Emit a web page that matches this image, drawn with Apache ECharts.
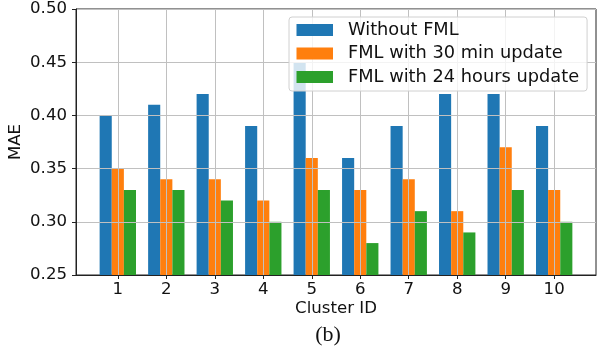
<!DOCTYPE html>
<html>
<head>
<meta charset="utf-8">
<script src="https://cdn.jsdelivr.net/npm/echarts@6/dist/echarts.min.js"></script>
<style>html,body{margin:0;padding:0;background:#fff}#c{width:598px;height:349px}</style>
</head>
<body>
<div id="c"></div>
<script>
const clusters = [1, 2, 3, 4, 5, 6, 7, 8, 9, 10];
const withoutFML = [0.40, 0.41, 0.42, 0.39, 0.45, 0.36, 0.39, 0.42, 0.42, 0.39];
const fml30min = [0.35, 0.34, 0.34, 0.32, 0.36, 0.33, 0.34, 0.31, 0.37, 0.33];
const fml24h = [0.33, 0.33, 0.32, 0.30, 0.33, 0.28, 0.31, 0.29, 0.33, 0.30];
const seriesNames = ['Without FML', 'FML with 30 min update', 'FML with 24 hours update'];
const yTicks = [0.25, 0.30, 0.35, 0.40, 0.45, 0.50];

const FONT = 'DejaVu Sans';
const colors = ['#1f77b4', '#ff7f0e', '#2ca02c'];
const barW = 0.25;
const xMin = clusters[0] - 1.5 * barW - 0.4875;
const xMax = clusters[clusters.length - 1] + 1.5 * barW + 0.4875;

const chart = echarts.init(document.getElementById('c'), null, {renderer: 'canvas'});
const gridLeft = 76, gridTop = 9, gridW = 520, gridH = 266;
const pxPerUnit = gridW / (xMax - xMin);

function mk(name, vals, i) {
  return {
    name: name, type: 'bar',
    data: clusters.map((c, k) => [c, vals[k]]),
    barWidth: barW * pxPerUnit,
    barGap: '0%',
    itemStyle: {color: colors[i]},
    z: 2
  };
}

chart.setOption({
  animation: false,
  backgroundColor: '#fff',
  textStyle: {fontFamily: FONT},
  grid: {left: gridLeft, top: gridTop, width: gridW, height: gridH, show: true, borderColor: '#222', borderWidth: 1,
    containLabel: false, outerBoundsMode: 'none'},
  legend: {
    orient: 'vertical', left: 289, top: 17,
    padding: [3, 8, 4, 7.5], itemGap: 3.5,
    itemWidth: 36.5, itemHeight: 12,
    backgroundColor: 'rgba(255,255,255,0.8)', borderColor: '#d0d0d0', borderWidth: 1, borderRadius: 3,
    textStyle: {fontFamily: FONT, fontSize: 17.8, color: '#111', lineHeight: 20, padding: [0, 0, 0, 10]},
    icon: 'rect',
    data: seriesNames,
    z: 10
  },
  xAxis: {
    type: 'value', min: xMin, max: xMax,
    name: 'Cluster ID', nameLocation: 'middle', nameGap: 25, nameMoveOverlap: false,
    nameTextStyle: {fontFamily: FONT, fontSize: 16.6, color: '#111'},
    axisLine: {show: true, lineStyle: {color: '#222', width: 1}},
    axisTick: {show: true, length: 4, customValues: clusters, lineStyle: {color: '#222'}},
    axisLabel: {customValues: clusters, fontFamily: FONT, fontSize: 16.6, color: '#111', margin: 6,
      formatter: v => String(Math.round(v))},
    splitLine: {show: true, lineStyle: {color: '#c0c0c0', width: 1}},
    z: 3
  },
  yAxis: {
    type: 'value', min: yTicks[0], max: yTicks[yTicks.length - 1], interval: 0.05,
    name: 'MAE', nameLocation: 'middle', nameGap: 52, nameRotate: 90, nameMoveOverlap: false,
    nameTextStyle: {fontFamily: FONT, fontSize: 16.6, color: '#111'},
    axisLine: {show: true, lineStyle: {color: '#222', width: 1}},
    axisTick: {show: true, length: 4, lineStyle: {color: '#222'}},
    axisLabel: {fontFamily: FONT, fontSize: 16.6, color: '#111', margin: 9, formatter: v => v.toFixed(2)},
    splitLine: {show: true, lineStyle: {color: '#c0c0c0', width: 1}},
    z: 3
  },
  graphic: [{
    type: 'text', x: 328, y: 335,
    style: {text: '(b)', font: '22px "Liberation Serif"', fill: '#111', textAlign: 'center', textVerticalAlign: 'middle'}
  }],
  series: [mk(seriesNames[0], withoutFML, 0), mk(seriesNames[1], fml30min, 1), mk(seriesNames[2], fml24h, 2)]
});
</script>
</body>
</html>
